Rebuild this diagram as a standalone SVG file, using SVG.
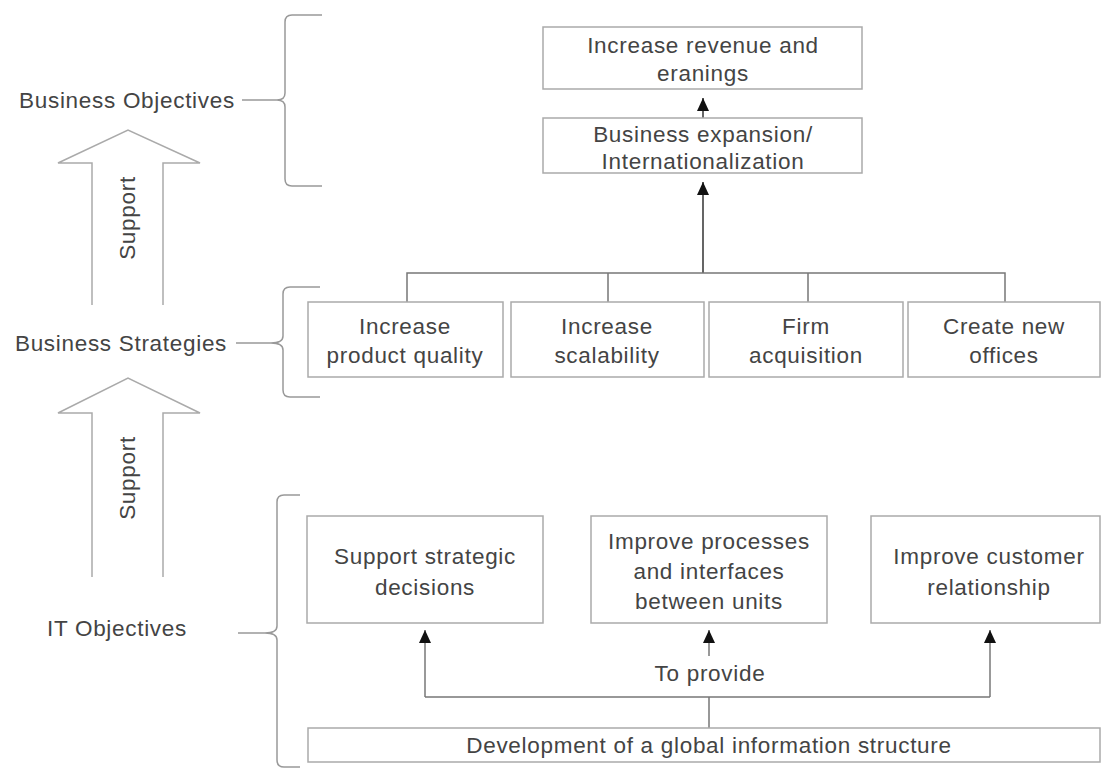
<svg xmlns="http://www.w3.org/2000/svg" width="1102" height="771" viewBox="0 0 1102 771">
<defs>
<style>
text{font-family:"Liberation Sans",Arial,sans-serif;font-size:22.5px;fill:#444;letter-spacing:0.7px;text-anchor:middle}
.box{fill:#fff;stroke:#aaa;stroke-width:1.5}
.brace{fill:none;stroke:#999;stroke-width:1.5}
.blk{fill:none;stroke:#aaa;stroke-width:1.5}
.con{fill:none;stroke:#777;stroke-width:1.5}
.dark{fill:none;stroke:#555;stroke-width:1.8}
</style>
<marker id="ah" viewBox="0 0 13 12" refX="13" refY="6" markerWidth="13" markerHeight="12" markerUnits="userSpaceOnUse" orient="auto">
<path d="M0,0 L13,6 L0,12 Z" fill="#111"/>
</marker>
</defs>
<rect width="1102" height="771" fill="#fff"/>

<g id="labels">
<text x="127" y="108">Business Objectives</text>
<path class="brace" d="M242,100 H277 M322,15 H292 Q285,15 285,22 V93 Q285,100 277,100 Q285,100 285,107 V179 Q285,186 292,186 H322"/>
<text x="121" y="351">Business Strategies</text>
<path class="brace" d="M236,343 H271 M320,287 H290 Q283,287 283,294 V336 Q283,343 271,343 Q283,343 283,350 V390 Q283,397 290,397 H320"/>
<text x="117" y="636">IT Objectives</text>
<path class="brace" d="M238,633 H265 M300,495 H284 Q277,495 277,502 V626 Q277,633 265,633 Q277,633 277,640 V760 Q277,767 284,767 H300"/>
</g>

<g id="support-arrow-1">
<path class="blk" d="M92,305 V163 H58 L128,130 L200,163 H163 V305"/>
<text transform="translate(135,218) rotate(-90)">Support</text>
</g>
<g id="support-arrow-2">
<path class="blk" d="M92,577 V413 H58 L128,378 L200,413 H163 V577"/>
<text transform="translate(135,478) rotate(-90)">Support</text>
</g>

<g id="connectors">
<line class="dark" x1="703" y1="118" x2="703" y2="98" marker-end="url(#ah)"/>
<line class="dark" x1="703" y1="273" x2="703" y2="182" marker-end="url(#ah)"/>
<path class="con" d="M407,302 V273 H1005 V302 M608,273 V302 M808,273 V302"/>
<path class="con" d="M709,728 V697 M425,697 H990"/>
<line class="con" x1="425" y1="697" x2="425" y2="630" marker-end="url(#ah)"/>
<line class="con" x1="990" y1="697" x2="990" y2="630" marker-end="url(#ah)"/>
<line class="con" x1="709" y1="656" x2="709" y2="630" marker-end="url(#ah)"/>
<text x="710" y="681">To provide</text>
</g>

<g id="n-revenue">
<rect class="box" x="543" y="27" width="319" height="62"/>
<text x="703" y="53">Increase revenue and</text>
<text x="703" y="81">eranings</text>
</g>
<g id="n-expansion">
<rect class="box" x="543" y="118" width="319" height="55"/>
<text x="703" y="142">Business expansion/</text>
<text x="703" y="169">Internationalization</text>
</g>

<g id="n-quality">
<rect class="box" x="308" y="302" width="195" height="75"/>
<text x="405" y="334">Increase</text>
<text x="405" y="363">product quality</text>
</g>
<g id="n-scalability">
<rect class="box" x="511" y="302" width="193" height="75"/>
<text x="607" y="334">Increase</text>
<text x="607" y="363">scalability</text>
</g>
<g id="n-acquisition">
<rect class="box" x="709" y="302" width="194" height="75"/>
<text x="806" y="334">Firm</text>
<text x="806" y="363">acquisition</text>
</g>
<g id="n-offices">
<rect class="box" x="908" y="302" width="192" height="75"/>
<text x="1004" y="334">Create new</text>
<text x="1004" y="363">offices</text>
</g>

<g id="n-decisions">
<rect class="box" x="307" y="516" width="236" height="107"/>
<text x="425" y="564">Support strategic</text>
<text x="425" y="595">decisions</text>
</g>
<g id="n-processes">
<rect class="box" x="591" y="516" width="236" height="107"/>
<text x="709" y="549">Improve processes</text>
<text x="709" y="579">and interfaces</text>
<text x="709" y="609">between units</text>
</g>
<g id="n-customer">
<rect class="box" x="871" y="516" width="229" height="107"/>
<text x="989" y="564">Improve customer</text>
<text x="989" y="595">relationship</text>
</g>
<g id="n-development">
<rect class="box" x="308" y="728" width="792" height="34"/>
<text x="709" y="753">Development of a global information structure</text>
</g>
</svg>
